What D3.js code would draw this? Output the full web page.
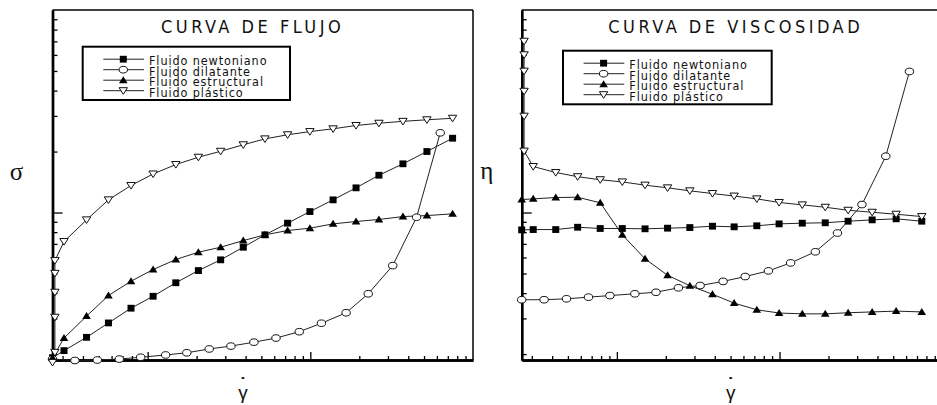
<!DOCTYPE html>
<html>
<head>
<meta charset="utf-8">
<script src="https://cdn.jsdelivr.net/npm/d3@7"></script>
<style>
  body { margin: 0; background: #fff; }
  svg { display: block; }
</style>
</head>
<body>
<svg id="drawing_region"></svg>
<script>
// shear rate values (arbitrary log units, same grid in both panels)
const gammaMain = [3.06, 4.21, 5.74, 7.9, 10.8, 14.9, 20.5, 28.1, 38.7, 52.6, 72.5, 99.4, 138, 191, 264, 371, 521, 749];
const gammaDil  = [3.57, 4.9, 6.69, 9.06, 12.9, 17.4, 23.9, 32.5, 45.0, 61.5, 85.5, 117, 166, 227, 321, 450, 629];
const gammaStartNewt = [2.6];
const gammaStartDil  = [2.6];
const gammaYieldFlujo = [2.6, 2.69, 2.69, 2.69, 2.69, 2.69];
const gammaYieldVisc  = [2.69, 2.69, 2.69, 2.69, 2.69, 2.69];

// CURVA DE FLUJO (sigma)
const flujoNewtoniano = [1.92, 2.08, 2.42, 2.85, 3.37, 3.86, 4.50, 5.17, 5.84, 6.74, 7.76, 8.86, 10.11, 11.55, 13.24, 15.28, 17.40, 20.01, 23.28];
const flujoDilatante  = [1.89, 1.86, 1.87, 1.89, 1.93, 1.98, 2.03, 2.12, 2.19, 2.29, 2.40, 2.58, 2.84, 3.20, 3.97, 5.47, 9.48, 24.75];
const flujoEstructural = [1.92, 2.40, 3.08, 3.89, 4.58, 5.23, 5.86, 6.37, 6.74, 7.27, 7.76, 8.15, 8.37, 8.79, 9.03, 9.24, 9.55, 9.66, 9.85];
const flujoPlastico = [1.82, 2.04, 3.04, 4.04, 5.01, 5.79, 7.19, 9.20, 11.55, 13.6, 15.5, 17.26, 18.75, 20.07, 21.6, 23.1, 24.2, 25.1, 25.9, 26.9, 27.6, 28.2, 28.7, 29.2];

// CURVA DE VISCOSIDAD (eta)
const viscNewtoniano = [8.21, 8.24, 8.24, 8.46, 8.34, 8.34, 8.31, 8.37, 8.43, 8.56, 8.50, 8.60, 8.79, 8.86, 8.90, 9.06, 9.20, 9.31, 9.06];
const viscDilatante  = [3.71, 3.71, 3.75, 3.82, 3.89, 3.97, 4.04, 4.25, 4.36, 4.57, 4.83, 5.15, 5.64, 6.40, 7.92, 10.95, 18.97, 49.7];
const viscEstructural = [11.59, 11.68, 11.86, 11.90, 11.17, 7.76, 5.91, 4.90, 4.35, 3.95, 3.57, 3.31, 3.19, 3.16, 3.16, 3.20, 3.23, 3.26, 3.23];
const viscPlastico = [70.1, 60.1, 49.9, 39.7, 29.9, 20.1, 16.87, 15.76, 15.03, 14.52, 14.16, 13.65, 13.24, 12.80, 12.41, 12.06, 11.68, 11.21, 10.91, 10.62, 10.26, 10.03, 9.81, 9.55];

const seriesNames = ["Fluido newtoniano", "Fluido dilatante", "Fluido estructural", "Fluido plástico"];
const seriesMarkers = ["square", "circle", "triangle", "triangleDown"];

const xDomain = [2.6, 1000];
const yDomain = [1.87, 100];
const xMinorTicks = [3, 4, 5, 6, 7, 8, 9, 20, 30, 40, 50, 60, 70, 80, 90, 200, 300, 400, 500, 600, 700, 800, 900];
const xMajorTicks = [10, 100];
const yMinorTicks = [2, 3, 4, 5, 6, 7, 8, 9, 20, 30, 40, 50, 60, 70, 80, 90];
const yMajorTicks = [10];

const zip = (xs, ys) => xs.map((x, i) => ({x: x, y: ys[i]}));

const panels = [
    {
        left: 52.5, title: "CURVA DE FLUJO", titleX: 108.5, ylabel: "σ", ylabelX: -36, ylabelY: 170,
        gammaX: 190.5, legend: {x: 30.2, y: 36.7, w: 207.3, h: 53.3},
        series: [
            zip(gammaStartNewt.concat(gammaMain), flujoNewtoniano),
            zip(gammaStartDil.concat(gammaDil), flujoDilatante),
            zip(gammaStartNewt.concat(gammaMain), flujoEstructural),
            zip(gammaYieldFlujo.concat(gammaMain), flujoPlastico)
        ]
    },
    {
        left: 521.7, title: "CURVA DE VISCOSIDAD", titleX: 86.6, ylabel: "η", ylabelX: -35, ylabelY: 168.5,
        gammaX: 209.1, legend: {x: 41.3, y: 40.7, w: 208.7, h: 53.6},
        series: [
            zip(gammaStartNewt.concat(gammaMain), viscNewtoniano),
            zip(gammaStartDil.concat(gammaDil), viscDilatante),
            zip(gammaStartNewt.concat(gammaMain), viscEstructural),
            zip(gammaYieldVisc.concat(gammaMain), viscPlastico)
        ]
    }
];

const config = { width: 937, height: 405, top: 10, inner_width: 420.5, inner_height: 350 };

const svg = d3.select('#drawing_region')
    .attr('width', config.width)
    .attr('height', config.height);

function marker(sel, type) {
    if (type === "circle") {
        sel.append('ellipse').attr('rx', 4.2).attr('ry', 3.3)
            .attr('fill', '#fff').attr('stroke', '#111').attr('stroke-width', 1);
    } else if (type === "square") {
        sel.append('rect').attr('x', -3.5).attr('y', -3.4).attr('width', 7).attr('height', 6.8)
            .attr('fill', '#000');
    } else if (type === "triangle") {
        sel.append('path').attr('d', 'M0,-4L4.3,3L-4.3,3Z').attr('fill', '#000');
    } else {
        sel.append('path').attr('d', 'M-4.2,-3L4.2,-3L0,3.6Z')
            .attr('fill', '#fff').attr('stroke', '#111').attr('stroke-width', 1);
    }
}

panels.forEach(p => {
    const W = config.inner_width, H = config.inner_height;
    const g = svg.append('g').attr('transform', `translate(${p.left}, ${config.top})`);

    const xscale = d3.scaleLog().domain(xDomain).range([0, W]);
    const yscale = d3.scaleLog().domain(yDomain).range([H, 0]);

    // frame
    g.append('line').attr('x1', 0).attr('x2', W).attr('y1', 0).attr('y2', 0)
        .attr('stroke', '#000').attr('stroke-width', 1.5);
    g.append('line').attr('x1', W).attr('x2', W).attr('y1', 0).attr('y2', H)
        .attr('stroke', '#000').attr('stroke-width', 1.5);

    // ticks inward, no labels
    const axes = [
        [d3.axisBottom(xscale).tickValues(xMinorTicks).tickSize(-4), `translate(0, ${H})`],
        [d3.axisBottom(xscale).tickValues(xMajorTicks).tickSize(-8), `translate(0, ${H})`],
        [d3.axisLeft(yscale).tickValues(yMinorTicks).tickSize(-5), null],
        [d3.axisLeft(yscale).tickValues(yMajorTicks).tickSize(-10), null]
    ];
    axes.forEach(([ax, tr]) => {
        const a = g.append('g').call(ax.tickFormat('').tickSizeOuter(0));
        if (tr) a.attr('transform', tr);
        a.select('.domain').attr('stroke', '#000').attr('stroke-width', 2.4);
        a.selectAll('.tick line').attr('stroke', '#000').attr('stroke-width', 1.3);
    });

    // lines
    const line = d3.line().x(d => xscale(d.x)).y(d => yscale(d.y));
    p.series.forEach(s => {
        g.append('path').datum(s).attr('d', line)
            .attr('fill', 'none').attr('stroke', '#222').attr('stroke-width', 1);
    });
    // markers
    p.series.forEach((s, i) => {
        g.selectAll(null).data(s).enter().append('g')
            .attr('transform', d => `translate(${xscale(d.x)}, ${yscale(d.y)})`)
            .each(function() { marker(d3.select(this), seriesMarkers[i]); });
    });

    // title
    g.append('text')
        .attr('x', p.titleX).attr('y', 22.5)
        .attr('font-family', '"Liberation Sans Narrow", "DejaVu Sans Condensed", "Liberation Sans", sans-serif')
        .attr('font-size', 18).attr('letter-spacing', 3.5)
        .attr('fill', '#111')
        .text(p.title);

    // legend
    const L = p.legend;
    const lg = g.append('g').attr('transform', `translate(${L.x}, ${L.y})`);
    lg.append('rect').attr('width', L.w).attr('height', L.h)
        .attr('fill', '#fff').attr('stroke', '#000').attr('stroke-width', 2);
    seriesNames.forEach((name, i) => {
        const ly = 12.5 + i * 10.5;
        lg.append('line').attr('x1', 20.6).attr('x2', 61.3).attr('y1', ly).attr('y2', ly)
            .attr('stroke', '#222').attr('stroke-width', 1);
        const m = lg.append('g').attr('transform', `translate(40.6, ${ly})`);
        marker(m, seriesMarkers[i]);
        lg.append('text')
            .attr('x', 66.3).attr('y', 18.7 + i * 10.4)
            .attr('font-family', '"Liberation Sans Narrow", "DejaVu Sans Condensed", "Liberation Sans", sans-serif')
            .attr('font-size', 12.5).attr('letter-spacing', 0.9)
            .attr('fill', '#111')
            .text(name);
    });

    // axis labels
    g.append('text')
        .attr('x', p.ylabelX).attr('y', p.ylabelY)
        .attr('text-anchor', 'middle')
        .attr('font-family', '"Liberation Serif", "DejaVu Serif", serif')
        .attr('font-size', 25).attr('fill', '#111')
        .text(p.ylabel);

    g.append('text')
        .attr('x', p.gammaX).attr('y', 389)
        .attr('text-anchor', 'middle')
        .attr('font-family', '"Liberation Sans", sans-serif')
        .attr('font-size', 19).attr('fill', '#111')
        .text('γ')
        .append('tspan')
        .attr('x', p.gammaX).attr('dy', -8)
        .attr('font-weight', 'bold')
        .text('˙');
});
</script>
</body>
</html>
